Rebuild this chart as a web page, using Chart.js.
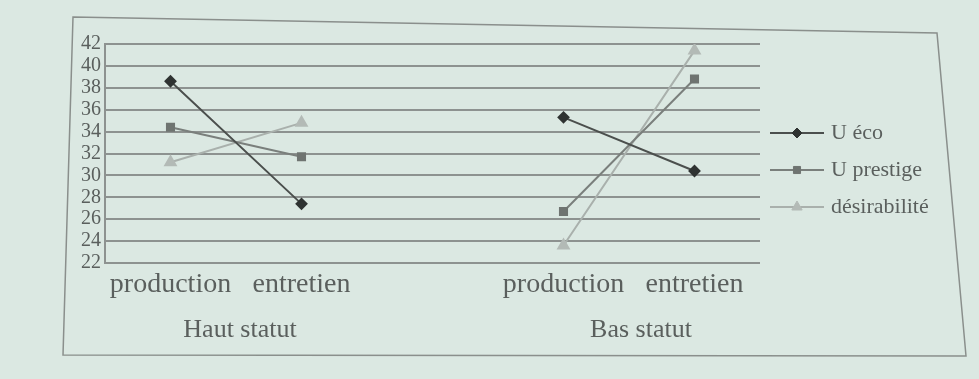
<!DOCTYPE html>
<html>
<head>
<meta charset="utf-8">
<script src="https://cdn.jsdelivr.net/npm/chart.js@4/dist/chart.umd.min.js"></script>
<style>
  html, body { margin: 0; padding: 0; background: #dbe8e2; }
  #wrap { width: 979px; height: 379px; position: relative; }
</style>
</head>
<body>
<div id="wrap"><canvas id="c" width="979" height="379"></canvas></div>
<script>
// ---- data ----
const categories = ['production', 'entretien', '', 'production', 'entretien'];
const groupLabels = ['Haut statut', 'Bas statut'];
const seriesNames = ['U éco', 'U prestige', 'désirabilité'];
const uEco = [38.6, 27.4, null, 35.3, 30.4];
const uPrestige = [34.4, 31.7, null, 26.7, 38.8];
const desirabilite = [31.2, 34.8, null, 23.6, 41.4];
const yTicks = [22, 24, 26, 28, 30, 32, 34, 36, 38, 40, 42];

const textColor = '#5a5f5d';
const gridColor = '#8d9290';
const serif = '"Liberation Serif", "DejaVu Serif", serif';

const decor = {
  id: 'decor',
  beforeDraw(chart) {
    const ctx = chart.ctx;
    ctx.save();
    ctx.strokeStyle = '#8a8f8c';
    ctx.lineWidth = 1.5;
    ctx.beginPath();
    ctx.moveTo(73, 17);
    ctx.lineTo(937, 33);
    ctx.lineTo(966, 356);
    ctx.lineTo(63, 355);
    ctx.closePath();
    ctx.stroke();
    ctx.restore();
  },
  afterDraw(chart) {
    const ctx = chart.ctx;
    const xs = chart.scales.x;
    ctx.save();
    ctx.fillStyle = textColor;
    ctx.font = '26px ' + serif;
    ctx.textAlign = 'center';
    ctx.textBaseline = 'middle';
    const g1 = (xs.getPixelForValue(0) + xs.getPixelForValue(1)) / 2;
    const g2 = (xs.getPixelForValue(3) + xs.getPixelForValue(4)) / 2;
    ctx.fillText(groupLabels[0], g1 + 4, 330);
    ctx.fillText(groupLabels[1], g2 + 12, 330);

    // legend
    const lx = 770, ly0 = 133, dy = 37;
    chart.data.datasets.forEach((ds, i) => {
      const y = ly0 + i * dy;
      ctx.strokeStyle = ds.borderColor;
      ctx.lineWidth = 2;
      ctx.beginPath();
      ctx.moveTo(lx, y);
      ctx.lineTo(lx + 54, y);
      ctx.stroke();
      ctx.fillStyle = ds.pointBackgroundColor;
      ctx.strokeStyle = ds.pointBorderColor;
      ctx.lineWidth = 1;
      Chart.helpers.drawPoint(ctx, {
        pointStyle: ds.pointStyle,
        radius: ds.pointRadius,
        rotation: 0,
        borderWidth: 1
      }, lx + 27, y);
      ctx.fillStyle = textColor;
      ctx.font = '22px ' + serif;
      ctx.textAlign = 'left';
      ctx.fillText(ds.label, lx + 61, y);
    });
    ctx.restore();
  }
};

new Chart(document.getElementById('c'), {
  type: 'line',
  data: {
    labels: categories,
    datasets: [
      {
        label: seriesNames[0], data: uEco,
        borderColor: '#4b4f4d', borderWidth: 2,
        pointStyle: 'rectRot', pointRadius: 5,
        pointBackgroundColor: '#2f3332', pointBorderColor: '#2f3332'
      },
      {
        label: seriesNames[1], data: uPrestige,
        borderColor: '#7a7f7c', borderWidth: 2,
        pointStyle: 'rect', pointRadius: 5,
        pointBackgroundColor: '#6f7471', pointBorderColor: '#6f7471'
      },
      {
        label: seriesNames[2], data: desirabilite,
        borderColor: '#a9b0ac', borderWidth: 2,
        pointStyle: 'triangle', pointRadius: 6,
        pointBackgroundColor: '#b3bab6', pointBorderColor: '#b3bab6'
      }
    ]
  },
  options: {
    responsive: false,
    animation: false,
    spanGaps: false,
    layout: { padding: { top: 44, right: 219, left: 0, bottom: 0 } },
    plugins: { legend: { display: false }, tooltip: { enabled: false } },
    scales: {
      x: {
        type: 'category',
        offset: true,
        grid: { display: false, drawTicks: false },
        border: { display: false },
        ticks: {
          color: textColor, padding: 5, maxRotation: 0, autoSkip: false,
          font: { family: serif, size: 28 }
        },
        afterFit(s) { s.height = 116; }
      },
      y: {
        min: 22, max: 42,
        afterBuildTicks(s) { s.ticks = yTicks.map(v => ({ value: v })); },
        grid: { color: gridColor, lineWidth: 2, drawTicks: false },
        border: { display: true, color: gridColor, width: 2 },
        ticks: {
          color: textColor, padding: 4, autoSkip: false,
          font: { family: serif, size: 20, lineHeight: 1 }
        },
        afterFit(s) { s.width = 105; }
      }
    }
  },
  plugins: [decor]
});
</script>
</body>
</html>
